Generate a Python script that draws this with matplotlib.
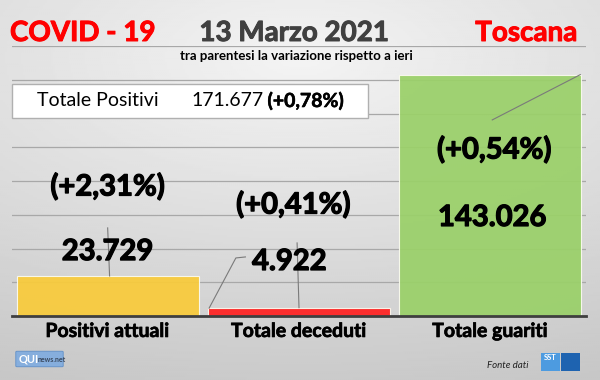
import numpy as np
import matplotlib
matplotlib.use("Agg")
import matplotlib.pyplot as plt
import matplotlib.patheffects as pe
from matplotlib.patches import Rectangle, FancyBboxPatch

plt.rcParams['font.family'] = ['Lato', 'DejaVu Sans']

categories = ['Positivi attuali', 'Totale deceduti', 'Totale guariti']
values = [23729, 4922, 143026]
value_labels = ['23.729', '4.922', '143.026']
change_labels = ['(+2,31%)', '(+0,41%)', '(+0,54%)']
bar_colors = ['#f9cb3a', '#ff2121', '#9ad069']

total_label = 'Totale Positivi'
total_value = '171.677'
total_change = '(+0,78%)'

W, H = 600, 380
fig = plt.figure(figsize=(6, 3.8), dpi=100)

# sfondo grigio sfumato
bg = fig.add_axes([0, 0, 1, 1], zorder=-10)
yy, xx = np.mgrid[0:1:200j, 0:1:300j]
r = np.sqrt(((xx - 0.5) / 1.3) ** 2 + ((yy - 0.15) / 1.0) ** 2)
shade = 0.955 - 0.19 * np.clip(r, 0, 1.2)
bg.imshow(shade, cmap='gray', vmin=0, vmax=1, aspect='auto', extent=[0, 1, 0, 1], origin='upper')
bg.set_xlim(0, 1)
bg.set_ylim(0, 1)
bg.axis('off')

def fx(px):
    return px / W

def fy(py):
    return 1 - py / H

def thick(c, w=0.9):
    return [pe.withStroke(linewidth=w, foreground=c)]

ax = fig.add_axes([fx(12), fy(316), fx(586) - fx(12), fy(46) - fy(316)])
ax.set_facecolor('none')
x = np.arange(len(categories))
ax.bar(x, values, width=0.95, color=bar_colors, edgecolor='#fbfbf0', linewidth=0.8, alpha=0.93, zorder=2)
ax.set_xlim(-0.5, 2.5)
ax.set_ylim(0, 160000)
ax.set_yticks(np.arange(0, 160001, 20000))
ax.yaxis.grid(True, color='#a8a8a8', linewidth=0.9, zorder=0)
ax.set_axisbelow(True)
ax.tick_params(axis='y', left=False, labelleft=False)
ax.set_xticks(x)
ax.set_xticklabels(categories, fontsize=14, fontweight='bold', color='black')
for lab in ax.get_xticklabels():
    lab.set_path_effects(thick('black', 0.5))
ax.tick_params(axis='x', length=0, pad=5)
for s in ['top', 'right', 'left']:
    ax.spines[s].set_visible(False)
ax.spines['bottom'].set_color('#3f3f3f')
ax.spines['bottom'].set_linewidth(2)
ax.spines['bottom'].set_zorder(5)

# etichette dei valori
value_pos = [(0.0, 37900), (0.95, 32000), (2.01, 58100)]
change_pos = [(0.0, 76500), (0.97, 65800), (2.02, 98400)]
for i in range(3):
    ax.text(value_pos[i][0], value_pos[i][1], value_labels[i], ha='center', va='center',
            fontsize=21, fontweight='bold', color='black', zorder=4, path_effects=thick('black'))
    ax.text(change_pos[i][0], change_pos[i][1], change_labels[i], ha='center', va='center',
            fontsize=21, fontweight='bold', color='black', zorder=4, path_effects=thick('black'))

# linee di richiamo
lc = '#7a7a7a'
ax.plot([0.0, 0.01], [52200, values[0]], color=lc, lw=0.8, zorder=3)
ax.plot([0.99, 1.0], [43300, values[1]], color=lc, lw=0.8, zorder=3)
ax.plot([0.53, 0.67, 0.72], [values[1] - 300, 34400, 35000], color=lc, lw=0.8, zorder=3)
ax.plot([2.01, 2.47], [116200, values[2]], color=lc, lw=0.8, zorder=3)

# titoli
fig.text(fx(10), fy(33), 'COVID - 19', fontsize=20, fontweight='bold', color='#ff0000', va='center', ha='left',
         path_effects=thick('#ff0000', 0.7))
fig.text(fx(294), fy(33), '13 Marzo 2021', fontsize=20, fontweight='bold', color='#404040', va='center', ha='center',
         path_effects=thick('#404040', 0.7))
fig.text(fx(577), fy(33), 'Toscana', fontsize=20, fontweight='bold', color='#ff0000', va='center', ha='right',
         path_effects=thick('#ff0000', 0.7))
fig.text(fx(296), fy(56), 'tra parentesi la variazione rispetto a ieri', fontsize=9.5, fontweight='bold',
         color='black', va='center', ha='center')

# riquadro totale positivi
box = Rectangle((fx(12), fy(118)), fx(368) - fx(12), fy(84) - fy(118), transform=fig.transFigure,
                facecolor='white', edgecolor='#b0b0b0', linewidth=1, zorder=6)
fig.patches.append(box)
fig.text(fx(37), fy(101), total_label, fontsize=14, color='black', va='center', ha='left', zorder=7)
fig.text(fx(264), fy(101), total_value, fontsize=14, color='black', va='center', ha='right', zorder=7)
fig.text(fx(344), fy(101), total_change, fontsize=14, fontweight='bold', color='black', va='center', ha='right', zorder=7,
         path_effects=thick('black', 0.4))

# fonte e loghi
fig.text(fx(487), fy(365), 'Fonte dati', fontsize=7, style='italic', color='#222222', va='center', ha='left')
qui = FancyBboxPatch((fx(17), fy(366)), fx(45), fy(352) - fy(366), boxstyle='round,pad=0.002',
                     transform=fig.transFigure, facecolor='#86aedd', edgecolor='#5f8fc8', linewidth=0.6)
fig.patches.append(qui)
fig.text(fx(19), fy(359), 'QUI', fontsize=8, fontweight='bold', color='white', va='center', ha='left')
fig.text(fx(38), fy(360), 'news.net', fontsize=5, fontweight='bold', color='#3a4a60', va='center', ha='left')
sst_l = Rectangle((fx(541), fy(371)), fx(19), fy(353) - fy(371), transform=fig.transFigure,
                  facecolor='#4d9be0', edgecolor='none')
sst_r = Rectangle((fx(561), fy(371)), fx(19), fy(353) - fy(371), transform=fig.transFigure,
                  facecolor='#1e63b0', edgecolor='none')
fig.patches.append(sst_l)
fig.patches.append(sst_r)
fig.text(fx(550.5), fy(357.5), 'SST', fontsize=5.5, fontweight='bold', color='white', va='center', ha='center')

fig.savefig('out.png', dpi=100)
